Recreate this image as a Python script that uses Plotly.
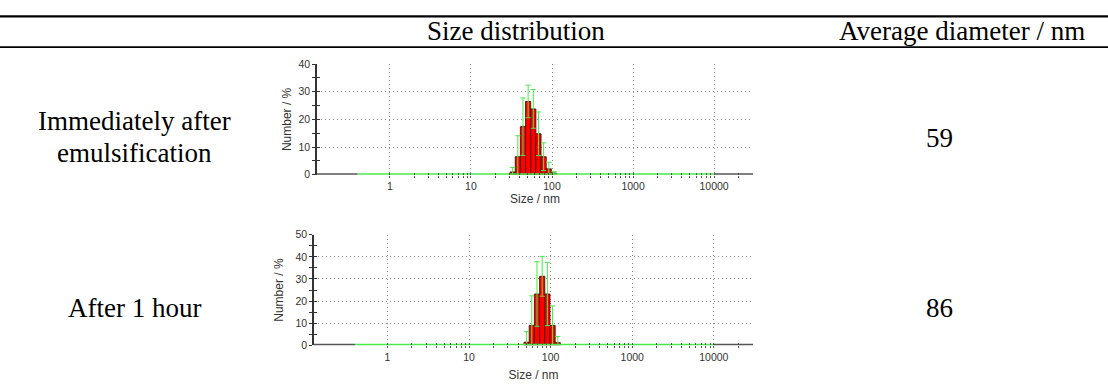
import numpy as np
import plotly.graph_objects as go

# ---------------- data ----------------
# Malvern size-bin centres (nm) and number distribution (%) with std. dev.
sizes_1 = [32.67, 37.84, 43.82, 50.75, 58.77, 68.06, 78.82, 91.28, 105.7]
number_1 = [1.0, 6.5, 17.4, 26.5, 23.8, 14.8, 6.5, 2.1, 0.6]
error_1 = [1.6, 7.6, 10.4, 5.9, 7.0, 7.9, 5.0, 2.4, 0.5]

sizes_2 = [50.75, 58.77, 68.06, 78.82, 91.28, 105.7, 122.4]
number_2 = [1.4, 9.0, 23.2, 31.2, 23.2, 9.0, 1.2]
error_2 = [4.8, 13.4, 14.6, 9.0, 14.3, 8.8, 2.8]

bin_width_decades = 0.0637          # width of one Malvern size class (log10 units)
size_range_nm = [0.126, 30200]      # extent of the size axis
measured_range_nm = [0.4, 10000]    # instrument range (green baseline)
major_sizes = [1, 10, 100, 1000, 10000]
major_labels = ["1", "10", "100", "1000", "10000"]
minor_sizes = [m * d for d in (1, 10, 100, 1000) for m in range(2, 10)] + [20000]

row_labels = [["Immediately after", "emulsification"], ["After 1 hour"]]
avg_diameter = ["59", "86"]
header = ["Size distribution", "Average diameter / nm"]
y_max = [40, 50]

# ---------------- styling ----------------
W, H = 1108, 392
RED = "#FF0000"
GREEN = "#48EA48"
GRAY = "#555555"
GRID = "#8C8C8C"
SANS = "Liberation Sans, Arial, sans-serif"
SERIF = "Liberation Serif, Times New Roman, DejaVu Serif, serif"

def px_x(p):
    return p / W

def px_y(p):
    return 1 - p / H

panels = [
    dict(sizes=sizes_1, vals=number_1, errs=error_1, x0=317, x1=753, ytop=60, ybot=174,
         ymax=y_max[0], xstand=3, ystand=4),
    dict(sizes=sizes_2, vals=number_2, errs=error_2, x0=314, x1=753, ytop=236, ybot=350,
         ymax=y_max[1], xstand=8, ystand=9),
]

lg = np.log10
xr = [float(lg(size_range_nm[0])), float(lg(size_range_nm[1]))]

fig = go.Figure()
layout = dict(
    width=W, height=H, margin=dict(l=0, r=0, t=0, b=0),
    paper_bgcolor="white", plot_bgcolor="white", showlegend=False,
)

for i, p in enumerate(panels):
    n = i + 1
    xa = "x" if n == 1 else f"x{n}"
    ya = "y" if n == 1 else f"y{n}"
    xo = f"x{n + 2}"
    yo = f"y{n + 2}"

    # baseline segments (gray outside instrument range, green inside)
    fig.add_trace(go.Scatter(x=lg([size_range_nm[0], measured_range_nm[0]]), y=[0, 0],
                             mode="lines", line=dict(color=GRAY, width=3),
                             xaxis=xa, yaxis=ya, hoverinfo="skip", cliponaxis=False))
    fig.add_trace(go.Scatter(x=lg([measured_range_nm[1], size_range_nm[1]]), y=[0, 0],
                             mode="lines", line=dict(color=GRAY, width=3),
                             xaxis=xa, yaxis=ya, hoverinfo="skip", cliponaxis=False))
    fig.add_trace(go.Scatter(x=lg(measured_range_nm), y=[0, 0],
                             mode="lines", line=dict(color=GREEN, width=3),
                             xaxis=xa, yaxis=ya, hoverinfo="skip", cliponaxis=False))

    fig.add_trace(go.Bar(
        x=lg(p["sizes"]), y=p["vals"], width=bin_width_decades,
        marker=dict(color=RED, line=dict(color="#3a0000", width=0.8)),
        error_y=dict(type="data", array=p["errs"], color=GREEN, thickness=1, width=2.6),
        xaxis=xa, yaxis=ya, hoverinfo="skip",
    ))
    # invisible traces so the overlay (inside-tick) axes are drawn
    fig.add_trace(go.Scatter(x=[xr[0]], y=[0], mode="markers", marker=dict(opacity=0),
                             xaxis=xo, yaxis=yo, hoverinfo="skip"))

    xdom = [px_x(p["x0"]), px_x(p["x1"])]
    ydom = [px_y(p["ybot"]), px_y(p["ytop"])]
    tickfont = dict(family=SANS, size=10.5, color="#333333")
    titlefont = dict(family=SANS, size=12, color="#333333")

    layout["xaxis" if n == 1 else f"xaxis{n}"] = dict(
        domain=xdom, anchor=ya, range=xr, type="linear",
        tickmode="array", tickvals=lg(major_sizes), ticktext=major_labels,
        ticks="outside", ticklen=2, tickcolor=GRAY, tickwidth=1,
        minor=dict(tickmode="array", tickvals=lg(minor_sizes), ticks="outside",
                   ticklen=2, tickcolor=GRAY, tickwidth=1, showgrid=False),
        showgrid=True, gridcolor=GRID, griddash="1px,3px", gridwidth=1,
        showline=False, zeroline=False, tickfont=tickfont,
        title=dict(text="Size / nm", font=titlefont, standoff=p["xstand"]),
        layer="below traces",
    )
    layout["yaxis" if n == 1 else f"yaxis{n}"] = dict(
        domain=ydom, anchor=xa, range=[0, p["ymax"]], dtick=10, tick0=0,
        ticks="outside", ticklen=3, tickcolor="#333333", tickwidth=1,
        minor=dict(dtick=5, ticks="outside", ticklen=3, tickcolor="#333333", tickwidth=1, showgrid=False),
        showgrid=True, gridcolor=GRID, griddash="1px,3px", gridwidth=1,
        showline=True, linecolor="#333333", linewidth=1.5, zeroline=False,
        tickfont=tickfont,
        title=dict(text="Number / %", font=titlefont, standoff=p["ystand"]),
        layer="below traces",
    )
    # overlay axes giving the crossing (inside) half of the ticks
    layout[f"xaxis{n + 2}"] = dict(
        overlaying=xa, anchor=ya, range=xr, type="linear",
        tickmode="array", tickvals=lg(major_sizes), ticks="inside", ticklen=2,
        tickcolor=GRAY, tickwidth=1,
        minor=dict(tickmode="array", tickvals=lg(minor_sizes), ticks="inside",
                   ticklen=2, tickcolor=GRAY, tickwidth=1, showgrid=False),
        showticklabels=False, showgrid=False, showline=False, zeroline=False,
    )
    layout[f"yaxis{n + 2}"] = dict(
        overlaying=ya, anchor=xa, range=[0, p["ymax"]], dtick=10, tick0=0,
        ticks="inside", ticklen=3, tickcolor="#333333", tickwidth=1,
        minor=dict(dtick=5, ticks="inside", ticklen=3, tickcolor="#333333", tickwidth=1, showgrid=False),
        showticklabels=False, showgrid=False, showline=False, zeroline=False,
    )

fig.update_layout(**layout)

# ---------------- table text & rules ----------------
def add_text(text, x, y, size=27):
    fig.add_annotation(text=text, x=px_x(x), y=px_y(y), xref="paper", yref="paper",
                       xanchor="center", yanchor="middle", showarrow=False,
                       font=dict(family=SERIF, size=size, color="black"))

add_text(header[0], 516, 26)
add_text(header[1], 962, 26)
add_text(row_labels[0][0], 134, 119)
add_text(row_labels[0][1], 134, 152)
add_text(avg_diameter[0], 939, 136)
add_text(row_labels[1][0], 134, 312)
add_text(avg_diameter[1], 939, 312)

fig.add_shape(type="line", xref="paper", yref="paper", x0=0, x1=1,
              y0=px_y(10.8), y1=px_y(10.8), line=dict(color="black", width=2.2))
fig.add_shape(type="line", xref="paper", yref="paper", x0=0, x1=1,
              y0=px_y(42.5), y1=px_y(42.5), line=dict(color="black", width=1.8))

fig.write_html("out.html", config={"displayModeBar": False},
               post_script="document.body.style.margin='0';")
